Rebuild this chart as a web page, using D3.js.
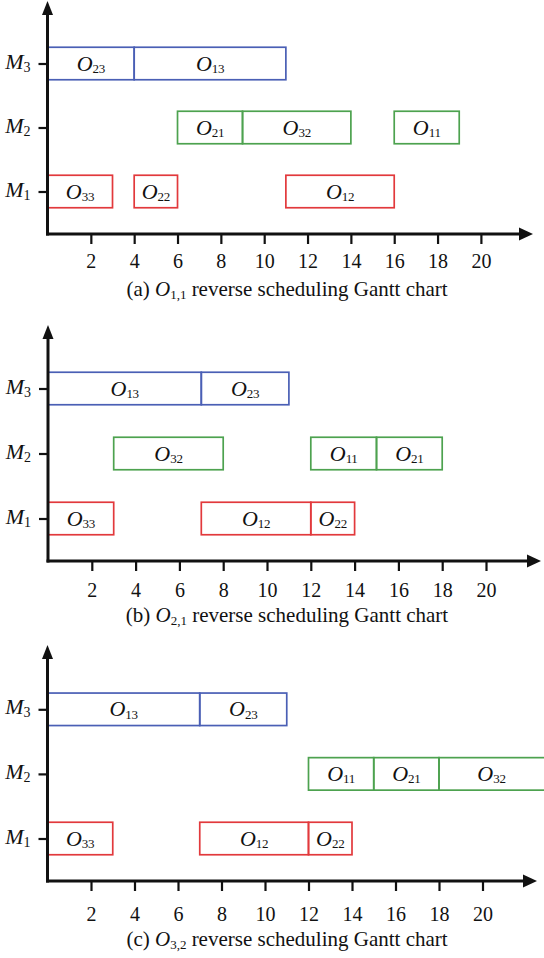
<!DOCTYPE html>
<html>
<head>
<meta charset="utf-8">
<script src="https://cdn.jsdelivr.net/npm/d3@7"></script>
<style>
body { margin: 0; background: #fff; }
svg { display: block; }
text { font-family: "Liberation Serif", "Times New Roman", serif; fill: #111; }
</style>
</head>
<body>
<svg width="544" height="958"></svg>
<script>
// DATA
var machines = ["M3", "M2", "M1"];
var machineSubs = ["3", "2", "1"];
var xTicks = [2, 4, 6, 8, 10, 12, 14, 16, 18, 20];

// [machine, operation subscript, start, end]
var opsA = [["M3","23",0,4],["M3","13",4,11],["M2","21",6,9],["M2","32",9,14],["M2","11",16,19],
            ["M1","33",0,3],["M1","22",4,6],["M1","12",11,16]];
var opsB = [["M3","13",0,7],["M3","23",7,11],["M2","32",3,8],["M2","11",12,15],["M2","21",15,18],
            ["M1","33",0,3],["M1","12",7,12],["M1","22",12,14]];
var opsC = [["M3","13",0,7],["M3","23",7,11],["M2","11",12,15],["M2","21",15,18],["M2","32",18,23],
            ["M1","33",0,3],["M1","12",7,12],["M1","22",12,14]];

var captionTags = ["(a) ", "(b) ", "(c) "];
var captionSubs = ["1,1", "2,1", "3,2"];

var colors = { M1: "#e2393c", M2: "#4da24f", M3: "#4a5fb5" };

// LAYOUT (one entry per panel)
var panels = [
    { ops: opsA, top: 1,   base: 234, x0: 47.5, unit: 21.67, tip: 533, gap: 64,   lab: 34, cap: 62 },
    { ops: opsB, top: 325, base: 561, x0: 48,   unit: 21.9,  tip: 541, gap: 65,   lab: 36, cap: 61 },
    { ops: opsC, top: 645, base: 881, x0: 47.5, unit: 21.75, tip: 537, gap: 64.6, lab: 40, cap: 65 }
];

var svg = d3.select("svg");
var W = 544;
var serif = "'Liberation Serif', 'Times New Roman', serif";

panels.forEach(function(p, pi) {
    var g = svg.append("g");

    var x = d3.scaleLinear().domain([0, 20]).range([p.x0, p.x0 + 20 * p.unit]);
    var m1 = p.base - 42.5;
    var y = d3.scalePoint().domain(machines).range([m1 - 2 * p.gap, m1]);
    var boxH = 32.5;

    // x axis ticks + labels
    var xa = g.append("g")
        .attr("transform", "translate(0," + p.base + ")")
        .call(d3.axisBottom(x).tickValues(xTicks).tickSize(10).tickSizeOuter(0));
    xa.attr("font-family", serif).attr("font-size", 20);
    xa.select(".domain").remove();
    xa.selectAll("line").attr("stroke", "#111").attr("stroke-width", 2.2);
    xa.selectAll("text")
        .attr("y", p.lab).attr("dy", null)
        .attr("fill", "#111");

    // y axis ticks
    var ya = g.append("g")
        .attr("transform", "translate(" + p.x0 + ",0)")
        .call(d3.axisLeft(y).tickSize(9).tickSizeOuter(0).tickFormat(""));
    ya.select(".domain").remove();
    ya.selectAll("line").attr("stroke", "#111").attr("stroke-width", 2.2);

    // machine labels
    var ml = g.selectAll(".mlab").data(machines).enter().append("text")
        .attr("class", "mlab")
        .attr("x", p.x0 - 17)
        .attr("y", function(d) { return y(d) + 5; })
        .attr("text-anchor", "end");
    ml.append("tspan").attr("font-style", "italic").attr("font-size", 22).text("M");
    ml.append("tspan").attr("font-size", 14).attr("dy", 3)
        .text(function(d, i) { return machineSubs[i]; });

    // operation boxes
    var boxes = g.selectAll(".op").data(p.ops).enter().append("g").attr("class", "op");
    boxes.append("rect")
        .attr("x", function(d) { return x(d[2]); })
        .attr("y", function(d) { return y(d[0]) - boxH / 2; })
        .attr("width", function(d) { return x(d[3]) - x(d[2]); })
        .attr("height", boxH)
        .attr("fill", "none")
        .attr("stroke", function(d) { return colors[d[0]]; })
        .attr("stroke-width", 1.7);
    var ol = boxes.append("text")
        .attr("x", function(d) { return (x(d[2]) + Math.min(x(d[3]), W)) / 2; })
        .attr("y", function(d) { return y(d[0]) + 7; })
        .attr("text-anchor", "middle");
    ol.append("tspan").attr("font-style", "italic").attr("font-size", 22).text("O");
    ol.append("tspan").attr("font-size", 13).attr("dy", 2.5).attr("letter-spacing", -0.3)
        .text(function(d) { return d[1]; });

    // axis lines with arrows
    g.append("line")
        .attr("x1", p.x0).attr("x2", p.x0)
        .attr("y1", p.top + 10).attr("y2", p.base + 1.5)
        .attr("stroke", "#111").attr("stroke-width", 3);
    g.append("line")
        .attr("x1", p.x0 - 1.5).attr("x2", p.tip - 10)
        .attr("y1", p.base).attr("y2", p.base)
        .attr("stroke", "#111").attr("stroke-width", 3);
    g.append("path")
        .attr("d", "M" + p.x0 + "," + p.top + "L" + (p.x0 + 5.5) + "," + (p.top + 14) +
                   "L" + (p.x0 - 5.5) + "," + (p.top + 14) + "Z")
        .attr("fill", "#111");
    g.append("path")
        .attr("d", "M" + p.tip + "," + p.base + "L" + (p.tip - 14) + "," + (p.base - 6.5) +
                   "L" + (p.tip - 14) + "," + (p.base + 6.5) + "Z")
        .attr("fill", "#111");

    // caption
    var cap = g.append("text")
        .attr("x", 287).attr("y", p.base + p.cap)
        .attr("text-anchor", "middle")
        .attr("font-size", 21);
    cap.append("tspan").text(captionTags[pi]);
    cap.append("tspan").attr("font-style", "italic").text("O");
    cap.append("tspan").attr("font-size", 13).attr("dy", 3).text(captionSubs[pi]);
    cap.append("tspan").attr("dy", -3).text(" reverse scheduling Gantt chart");
});
</script>
</body>
</html>
